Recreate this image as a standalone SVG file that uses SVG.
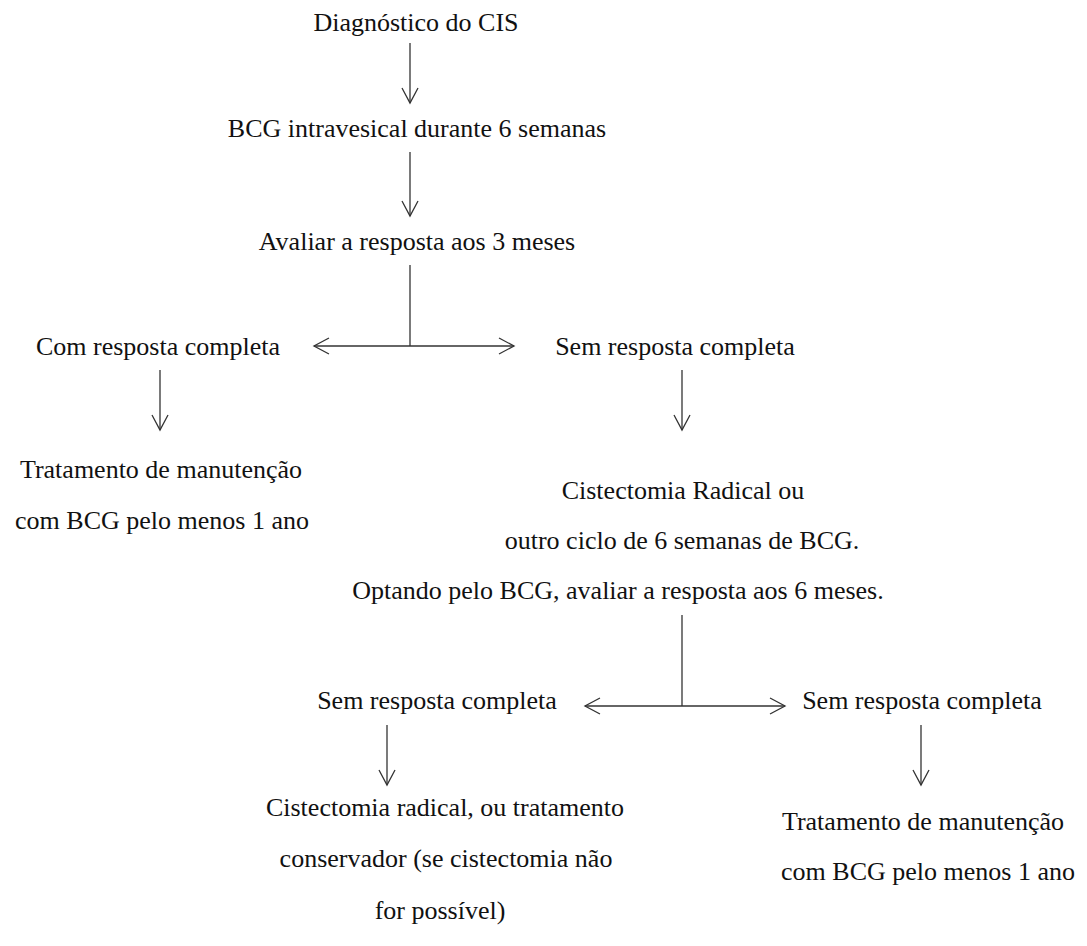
<svg xmlns="http://www.w3.org/2000/svg" width="1087" height="946" viewBox="0 0 1087 946">
<style>
text{font-family:"Liberation Serif","Times New Roman",serif;font-size:26px;fill:#111;text-anchor:middle}
.c{fill:none;stroke:#333;stroke-width:1.3}
</style>
<defs>
<marker id="ah" markerUnits="userSpaceOnUse" markerWidth="20" markerHeight="20" viewBox="-16 -10 20 20" refX="0" refY="0" orient="auto">
<path d="M-15,-8 L0,0 L-15,8" fill="none" stroke="#333" stroke-width="1.3"/>
</marker>
</defs>
<rect width="1087" height="946" fill="#fff"/>
<g id="connectors">
<line class="c" x1="410" y1="43" x2="410" y2="103" marker-end="url(#ah)"/>
<line class="c" x1="410" y1="152" x2="410" y2="216" marker-end="url(#ah)"/>
<line class="c" x1="410" y1="265" x2="410" y2="346"/>
<line class="c" x1="410" y1="346" x2="314" y2="346" marker-end="url(#ah)"/>
<line class="c" x1="410" y1="346" x2="514" y2="346" marker-end="url(#ah)"/>
<line class="c" x1="160" y1="370" x2="160" y2="430" marker-end="url(#ah)"/>
<line class="c" x1="682" y1="370" x2="682" y2="430" marker-end="url(#ah)"/>
<line class="c" x1="682" y1="615" x2="682" y2="706"/>
<line class="c" x1="682" y1="706" x2="585" y2="706" marker-end="url(#ah)"/>
<line class="c" x1="682" y1="706" x2="785" y2="706" marker-end="url(#ah)"/>
<line class="c" x1="387" y1="725" x2="387" y2="785" marker-end="url(#ah)"/>
<line class="c" x1="921" y1="725" x2="921" y2="785" marker-end="url(#ah)"/>
</g>
<g id="n1"><text x="416" y="31">Diagnóstico do CIS</text></g>
<g id="n2"><text x="417" y="137">BCG intravesical durante 6 semanas</text></g>
<g id="n3"><text x="417" y="250">Avaliar a resposta aos 3 meses</text></g>
<g id="n4"><text x="158" y="355">Com resposta completa</text></g>
<g id="n5"><text x="675" y="355">Sem resposta completa</text></g>
<g id="n6"><text x="161" y="478">Tratamento de manutenção</text><text x="162" y="529">com BCG pelo menos 1 ano</text></g>
<g id="n7"><text x="683" y="499">Cistectomia Radical ou</text><text x="682" y="549">outro ciclo de 6 semanas de BCG.</text><text x="618" y="599">Optando pelo BCG, avaliar a resposta aos 6 meses.</text></g>
<g id="n8"><text x="437" y="709">Sem resposta completa</text></g>
<g id="n9"><text x="922" y="709">Sem resposta completa</text></g>
<g id="n10"><text x="445" y="816">Cistectomia radical, ou tratamento</text><text x="446" y="867">conservador (se cistectomia não</text><text x="440" y="919">for possível)</text></g>
<g id="n11"><text x="923" y="830">Tratamento de manutenção</text><text x="928" y="880">com BCG pelo menos 1 ano</text></g>
</svg>
